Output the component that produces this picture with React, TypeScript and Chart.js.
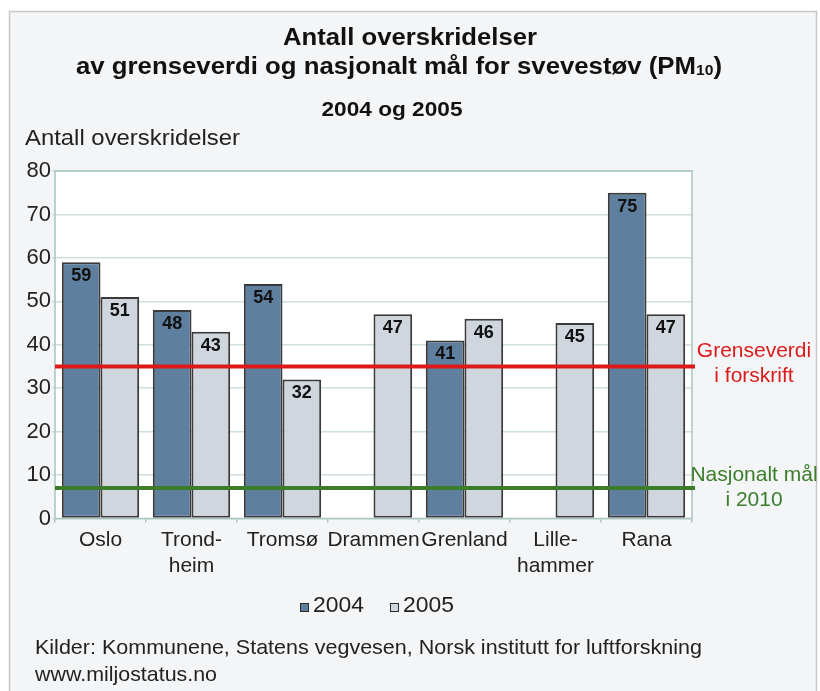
import React, { useEffect, useRef } from "react";
import { Chart, registerables } from "chart.js";

Chart.register(...registerables);

// ---- data ----
const categories: (string | string[])[] = [
  "Oslo",
  ["Trond-", "heim"],
  "Tromsø",
  "Drammen",
  "Grenland",
  ["Lille-", "hammer"],
  "Rana",
];
const values2004: (number | null)[] = [59, 48, 54, null, 41, null, 75];
const values2005: (number | null)[] = [51, 43, 32, 47, 46, 45, 47];
const seriesLabels = ["2004", "2005"];
const yMin = 0;
const yMax = 80;
const yStep = 10;
const limitValue = 35;
const limitLabel = ["Grenseverdi", "i forskrift"];
const goalValue = 7;
const goalLabel = ["Nasjonalt mål", "i 2010"];
const titleLine1 = "Antall overskridelser";
const titleLine2 = "av grenseverdi og nasjonalt mål for svevestøv (PM";
const titleLine2Sub = "10";
const titleLine2End = ")";
const subtitle = "2004 og 2005";
const yAxisTitle = "Antall overskridelser";
const sourceLines = [
  "Kilder: Kommunene, Statens vegvesen, Norsk institutt for luftforskning",
  "www.miljostatus.no",
];

const FONT = "'Liberation Sans', Arial, Helvetica, sans-serif";
const COLOR_2004 = "#5f7f9f";
const COLOR_2005 = "#cfd6de";
const BAR_BORDER = "#3a3a3a";
const RED = "#dd1a1a";
const GREEN = "#3b7d2a";
const GRID = "#cfe0dc";
const PLOT_BORDER = "#a9c4c0";

type Part = { text: string; font: string; dy?: number };

function drawParts(
  ctx: CanvasRenderingContext2D,
  parts: Part[],
  x: number,
  y: number,
  target: number | null,
  align: "left" | "center",
  color: string
) {
  ctx.save();
  ctx.fillStyle = color;
  ctx.textBaseline = "alphabetic";
  ctx.textAlign = "left";
  const widths = parts.map((p) => {
    ctx.font = p.font;
    return ctx.measureText(p.text).width;
  });
  const natural = widths.reduce((a, b) => a + b, 0);
  const sx = target ? target / natural : 1;
  const total = natural * sx;
  const startX = align === "center" ? x - total / 2 : x;
  ctx.translate(startX, y);
  ctx.scale(sx, 1);
  let cx = 0;
  parts.forEach((p, i) => {
    ctx.font = p.font;
    ctx.fillText(p.text, cx, p.dy || 0);
    cx += widths[i];
  });
  ctx.restore();
}

const decoPlugin = {
  id: "deco",
  beforeDraw(chart: any) {
    const { ctx, width, height, chartArea: a } = chart;
    ctx.save();
    ctx.fillStyle = "#ffffff";
    ctx.fillRect(0, 0, width, height);
    ctx.fillStyle = "#f4f5f7";
    ctx.fillRect(9.5, 11.5, 807, height);
    ctx.strokeStyle = "#c8c8c8";
    ctx.lineWidth = 1.5;
    ctx.strokeRect(9.5, 11.5, 807, height + 10);
    ctx.fillStyle = "#ffffff";
    ctx.fillRect(a.left, a.top, a.right - a.left, a.bottom - a.top);
    ctx.restore();
  },
  afterDatasetsDraw(chart: any) {
    const { ctx, chartArea: a } = chart;
    const yScale = chart.scales.y;
    ctx.save();
    // plot border
    ctx.strokeStyle = PLOT_BORDER;
    ctx.lineWidth = 1.5;
    ctx.strokeRect(a.left, a.top, a.right - a.left, a.bottom - a.top);

    // data labels
    ctx.font = `bold 18px ${FONT}`;
    ctx.fillStyle = "#111";
    ctx.textAlign = "center";
    ctx.textBaseline = "middle";
    chart.data.datasets.forEach((ds: any, di: number) => {
      const meta = chart.getDatasetMeta(di);
      meta.data.forEach((bar: any, i: number) => {
        const v = ds.data[i];
        if (v === null || v === undefined) return;
        ctx.fillText(String(v), bar.x, bar.y + 14);
      });
    });

    // reference lines
    const drawRef = (value: number, color: string) => {
      const y = yScale.getPixelForValue(value);
      ctx.strokeStyle = color;
      ctx.lineWidth = 4;
      ctx.beginPath();
      ctx.moveTo(a.left, y);
      ctx.lineTo(a.right + 3, y);
      ctx.stroke();
      return y;
    };
    const yr = drawRef(limitValue, RED);
    const yg = drawRef(goalValue, GREEN);
    ctx.restore();

    const cx = 754;
    drawParts(ctx, [{ text: limitLabel[0], font: `21px ${FONT}` }], cx, yr - 9, null, "center", RED);
    drawParts(ctx, [{ text: limitLabel[1], font: `21px ${FONT}` }], cx, yr + 16, null, "center", RED);
    drawParts(ctx, [{ text: goalLabel[0], font: `21px ${FONT}` }], cx, yg - 7, null, "center", GREEN);
    drawParts(ctx, [{ text: goalLabel[1], font: `21px ${FONT}` }], cx, yg + 18, null, "center", GREEN);
  },
  afterDraw(chart: any) {
    const { ctx } = chart;
    // titles
    drawParts(ctx, [{ text: titleLine1, font: `bold 23px ${FONT}` }], 410, 45, 254, "center", "#111");
    drawParts(
      ctx,
      [
        { text: titleLine2, font: `bold 23px ${FONT}` },
        { text: titleLine2Sub, font: `bold 14px ${FONT}`, dy: 1 },
        { text: titleLine2End, font: `bold 23px ${FONT}` },
      ],
      76,
      74,
      646,
      "left",
      "#111"
    );
    drawParts(ctx, [{ text: subtitle, font: `bold 20px ${FONT}` }], 392, 116, 141, "center", "#111");
    drawParts(ctx, [{ text: yAxisTitle, font: `22px ${FONT}` }], 25, 145, 215, "left", "#222");

    // legend
    const legendX = [300, 390];
    chart.data.datasets.forEach((ds: any, i: number) => {
      const x = legendX[i];
      ctx.save();
      ctx.fillStyle = ds.backgroundColor;
      ctx.fillRect(x, 603, 9, 9);
      ctx.strokeStyle = "#2a2a2a";
      ctx.lineWidth = 1;
      ctx.strokeRect(x + 0.5, 603.5, 8, 8);
      ctx.restore();
      drawParts(ctx, [{ text: ds.label, font: `22px ${FONT}` }], x + 13, 612, 51, "left", "#222");
    });

    // source
    drawParts(ctx, [{ text: sourceLines[0], font: `21px ${FONT}` }], 35, 654, 667, "left", "#222");
    drawParts(ctx, [{ text: sourceLines[1], font: `21px ${FONT}` }], 35, 681, 182, "left", "#222");
  },
};

export default function App() {
  const canvasRef = useRef<HTMLCanvasElement | null>(null);

  useEffect(() => {
    if (!canvasRef.current) return;
    const chart = new Chart(canvasRef.current, {
      type: "bar",
      data: {
        labels: categories,
        datasets: [
          {
            label: seriesLabels[0],
            data: values2004,
            backgroundColor: COLOR_2004,
            borderColor: BAR_BORDER,
            borderWidth: 2,
            borderSkipped: false,
          },
          {
            label: seriesLabels[1],
            data: values2005,
            backgroundColor: COLOR_2005,
            borderColor: BAR_BORDER,
            borderWidth: 2,
            borderSkipped: false,
          },
        ],
      } as any,
      options: {
        responsive: false,
        animation: false,
        devicePixelRatio: 1,
        layout: { padding: { left: 0, top: 171, right: 128, bottom: 92.5 } },
        datasets: {
          bar: { categoryPercentage: 0.85, barPercentage: 1.0 },
        },
        plugins: {
          legend: { display: false },
          tooltip: { enabled: false },
          title: { display: false },
        },
        scales: {
          x: {
            afterFit: (s: any) => {
              s.height = 80;
            },
            border: { display: false },
            grid: {
              offset: true,
              drawOnChartArea: false,
              drawTicks: true,
              tickLength: 4,
              color: PLOT_BORDER,
              lineWidth: 1.5,
            },
            ticks: {
              font: { family: FONT, size: 21, lineHeight: 1.24 },
              color: "#222",
              padding: 5,
              maxRotation: 0,
              autoSkip: false,
            },
          },
          y: {
            min: yMin,
            max: yMax,
            afterFit: (s: any) => {
              s.width = 55;
            },
            border: { display: false },
            grid: {
              color: GRID,
              lineWidth: 1.5,
              drawTicks: true,
              tickLength: 3,
            },
            ticks: {
              stepSize: yStep,
              font: { family: FONT, size: 22 },
              color: "#222",
              padding: 1,
            },
          },
        },
      } as any,
      plugins: [decoPlugin],
    });
    return () => chart.destroy();
  }, []);

  return (
    <div style={{ position: "fixed", left: 0, top: 0, width: 820, height: 691 }}>
      <canvas ref={canvasRef} width={820} height={691} style={{ display: "block" }} />
    </div>
  );
}
